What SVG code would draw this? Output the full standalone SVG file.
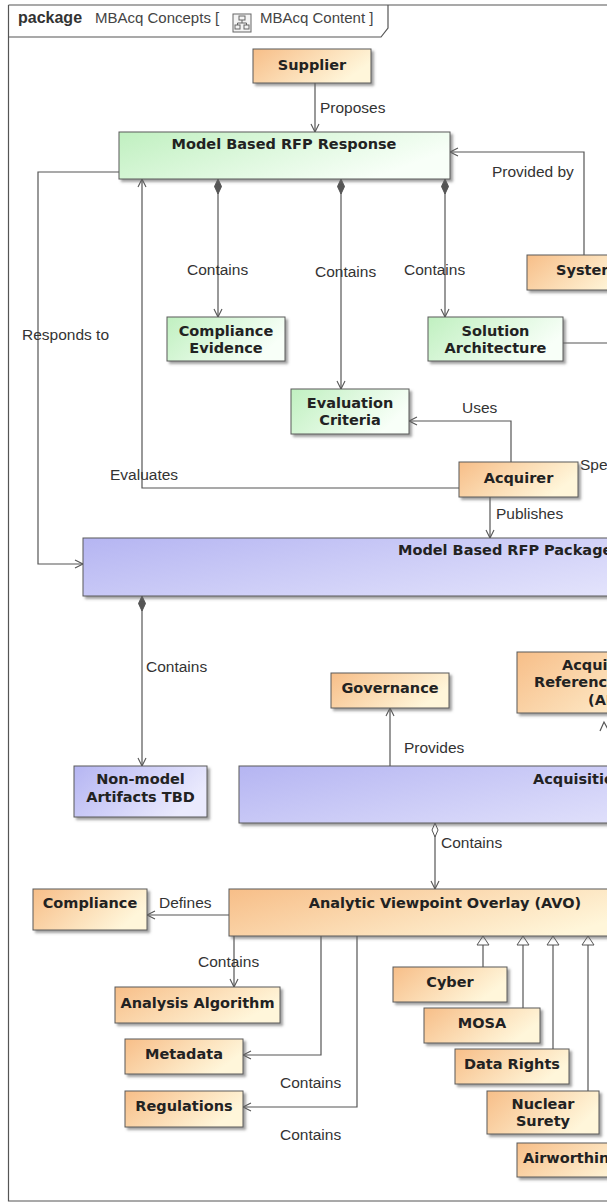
<svg xmlns="http://www.w3.org/2000/svg" width="607" height="1204" viewBox="0 0 607 1204">
<defs>
<linearGradient id="gO" x1="0" y1="0" x2="1" y2="0.4"><stop offset="0" stop-color="#F7BE88"/><stop offset="1" stop-color="#FFF6DA"/></linearGradient>
<linearGradient id="gG" x1="0" y1="0" x2="1" y2="0.4"><stop offset="0" stop-color="#C0F0C0"/><stop offset="1" stop-color="#F8FFF8"/></linearGradient>
<linearGradient id="gB" x1="0" y1="0" x2="1" y2="0.4"><stop offset="0" stop-color="#B5B5F2"/><stop offset="1" stop-color="#EAEAFD"/></linearGradient>
<filter id="sh" x="-5%" y="-10%" width="115%" height="140%"><feDropShadow dx="2.5" dy="2.5" stdDeviation="1" flood-color="#666" flood-opacity="0.6"/></filter>
<marker id="arr" markerWidth="12" markerHeight="12" refX="10" refY="6" orient="auto" markerUnits="userSpaceOnUse"><path d="M2,2 L10,6 L2,10" fill="none" stroke="#555" stroke-width="1.1"/></marker>
<marker id="dF" markerWidth="18" markerHeight="10" refX="1" refY="5" orient="auto" markerUnits="userSpaceOnUse"><path d="M1,5 L8.5,1.5 L16,5 L8.5,8.5 Z" fill="#555" stroke="#555"/></marker>
<marker id="dH" markerWidth="18" markerHeight="10" refX="1" refY="5" orient="auto" markerUnits="userSpaceOnUse"><path d="M1,5 L8,2 L15,5 L8,8 Z" fill="#fff" stroke="#555"/></marker>
<marker id="tri" markerWidth="12" markerHeight="14" refX="10" refY="7" orient="auto" markerUnits="userSpaceOnUse"><path d="M10,7 L1,1 L1,13 Z" fill="#fff" stroke="#555"/></marker>
</defs>
<style>
.n rect{stroke:#5a5a5a;stroke-width:1;filter:url(#sh)}
.o{fill:url(#gO)} .g{fill:url(#gG)} .b{fill:url(#gB)}
.t{font-family:"DejaVu Sans","Liberation Sans",sans-serif;font-weight:bold;font-size:14.5px;fill:#222;text-anchor:middle}
.ts{font-family:"DejaVu Sans","Liberation Sans",sans-serif;font-weight:bold;font-size:14.5px;fill:#222}
.l{font-family:"Liberation Sans",Arial,sans-serif;font-size:15.5px;fill:#333}
.c{fill:none;stroke:#555;stroke-width:1.2}
.a{marker-end:url(#arr)}
</style>
<rect width="607" height="1204" fill="#fff"/>
<g id="frame">
<path d="M8.5,5 H620 M8.5,5 V1201 H620 M8.5,37 H381 L388,28 V5" fill="none" stroke="#555" stroke-width="1.2"/>
<text x="18" y="23" font-family="Liberation Sans, Arial, sans-serif" font-size="16" font-weight="bold" fill="#333">package</text>
<text x="95" y="23" font-family="Liberation Sans, Arial, sans-serif" font-size="15" fill="#444">MBAcq Concepts [</text>
<g fill="#f4f4f4" stroke="#666" stroke-width="1">
<rect x="233" y="14" width="18" height="18"/>
<rect x="239" y="16" width="6" height="4"/>
<path d="M242,20 V23 M237.5,23 H246.5 M237.5,23 V25 M246.5,23 V25" fill="none"/>
<rect x="235" y="25" width="5" height="4"/>
<rect x="244" y="25" width="5" height="4"/>
</g>
<text x="260" y="23" font-family="Liberation Sans, Arial, sans-serif" font-size="15" fill="#444">MBAcq Content ]</text>
</g>
<g id="connectors">
<path class="c a" d="M315,83 V132"/>
<path class="c a" d="M584,255 V152 H450"/>
<path class="c a" d="M119,172 H38 V564 H83"/>
<path class="c a" d="M459,488 H142 V179"/>
<path class="c a" d="M218,179 V317" marker-start="url(#dF)"/>
<path class="c a" d="M341,179 V389" marker-start="url(#dF)"/>
<path class="c a" d="M445,179 V317" marker-start="url(#dF)"/>
<path class="c a" d="M511,462 V421 H409"/>
<path class="c a" d="M490,497 V538"/>
<path class="c" d="M563,343 H607"/>
<path class="c a" d="M142,596 V766" marker-start="url(#dF)"/>
<path class="c a" d="M390,766 V708"/>
<path class="c a" d="M435,823 V889" marker-start="url(#dH)"/>
<path class="c a" d="M229,915 H147"/>
<path class="c a" d="M234,936 V987"/>
<path class="c a" d="M321,936 V1055 H243"/>
<path class="c a" d="M357,936 V1107 H243"/>
<path class="c" d="M483,967 V936" marker-end="url(#tri)"/>
<path class="c" d="M523,1008 V936" marker-end="url(#tri)"/>
<path class="c" d="M553,1049 V936" marker-end="url(#tri)"/>
<path class="c" d="M588,1091 V936" marker-end="url(#tri)"/>
<path class="c" d="M600,731 L604,722 L609,731"/>
<g class="l">
<text x="320" y="113">Proposes</text>
<text x="492" y="177">Provided by</text>
<text x="187" y="275">Contains</text>
<text x="315" y="277">Contains</text>
<text x="404" y="275">Contains</text>
<text x="22" y="340">Responds to</text>
<text x="462" y="413">Uses</text>
<text x="110" y="480">Evaluates</text>
<text x="580" y="470">Specifies</text>
<text x="496" y="519">Publishes</text>
<text x="146" y="672">Contains</text>
<text x="404" y="753">Provides</text>
<text x="441" y="848">Contains</text>
<text x="159" y="908">Defines</text>
<text x="198" y="967">Contains</text>
<text x="280" y="1088">Contains</text>
<text x="280" y="1140">Contains</text>
</g>
</g>
<g id="supplier" class="n"><rect class="o" x="253" y="49" width="118" height="34"/><text class="t" x="312" y="70">Supplier</text></g>
<g id="response" class="n"><rect class="g" x="119" y="132" width="331" height="47"/><text class="t" x="284" y="149">Model Based RFP Response</text></g>
<g id="system" class="n"><rect class="o" x="527" y="255" width="110" height="35"/><text class="ts" x="556" y="275">System</text></g>
<g id="compliance-evidence" class="n"><rect class="g" x="167" y="317" width="118" height="44"/><text class="t" x="226" y="336">Compliance</text><text class="t" x="226" y="353">Evidence</text></g>
<g id="solution-architecture" class="n"><rect class="g" x="428" y="317" width="135" height="44"/><text class="t" x="495.5" y="336">Solution</text><text class="t" x="495.5" y="353">Architecture</text></g>
<g id="evaluation-criteria" class="n"><rect class="g" x="291" y="389" width="118" height="45"/><text class="t" x="350" y="408">Evaluation</text><text class="t" x="350" y="425">Criteria</text></g>
<g id="acquirer" class="n"><rect class="o" x="459" y="462" width="119" height="35"/><text class="t" x="518.5" y="483">Acquirer</text></g>
<g id="rfp-package" class="n"><rect class="b" x="83" y="538" width="843" height="58"/><text class="ts" x="398" y="555">Model Based RFP Package</text></g>
<g id="governance" class="n"><rect class="o" x="331" y="673" width="118" height="35"/><text class="t" x="390" y="693">Governance</text></g>
<g id="ara" class="n"><rect class="o" x="517" y="652" width="200" height="61"/><text class="ts" x="562" y="670">Acquisition</text><text class="ts" x="534" y="687">Reference Architecture</text><text class="ts" x="588" y="705">(ARA)</text></g>
<g id="non-model" class="n"><rect class="b" x="74" y="766" width="133" height="51"/><text class="t" x="140.5" y="784">Non-model</text><text class="t" x="140.5" y="802">Artifacts TBD</text></g>
<g id="acquisition" class="n"><rect class="b" x="239" y="766" width="700" height="57"/><text class="ts" x="533" y="784">Acquisition</text></g>
<g id="compliance" class="n"><rect class="o" x="33" y="889" width="114" height="41"/><text class="t" x="90" y="908">Compliance</text></g>
<g id="avo" class="n"><rect class="o" x="229" y="889" width="432" height="47"/><text class="t" x="445" y="908">Analytic Viewpoint Overlay (AVO)</text></g>
<g id="analysis-algorithm" class="n"><rect class="o" x="115" y="987" width="165" height="36"/><text class="t" x="197.5" y="1008">Analysis Algorithm</text></g>
<g id="cyber" class="n"><rect class="o" x="393" y="967" width="114" height="35"/><text class="t" x="450" y="987">Cyber</text></g>
<g id="mosa" class="n"><rect class="o" x="424" y="1008" width="116" height="35"/><text class="t" x="482" y="1028">MOSA</text></g>
<g id="metadata" class="n"><rect class="o" x="125" y="1039" width="118" height="35"/><text class="t" x="184" y="1059">Metadata</text></g>
<g id="data-rights" class="n"><rect class="o" x="455" y="1049" width="114" height="35"/><text class="t" x="512" y="1069">Data Rights</text></g>
<g id="regulations" class="n"><rect class="o" x="125" y="1091" width="118" height="36"/><text class="t" x="184" y="1111">Regulations</text></g>
<g id="nuclear-surety" class="n"><rect class="o" x="487" y="1091" width="112" height="43"/><text class="t" x="543" y="1109">Nuclear</text><text class="t" x="543" y="1126">Surety</text></g>
<g id="airworthiness" class="n"><rect class="o" x="517" y="1143" width="130" height="34"/><text class="ts" x="523" y="1163">Airworthiness</text></g>
</svg>
